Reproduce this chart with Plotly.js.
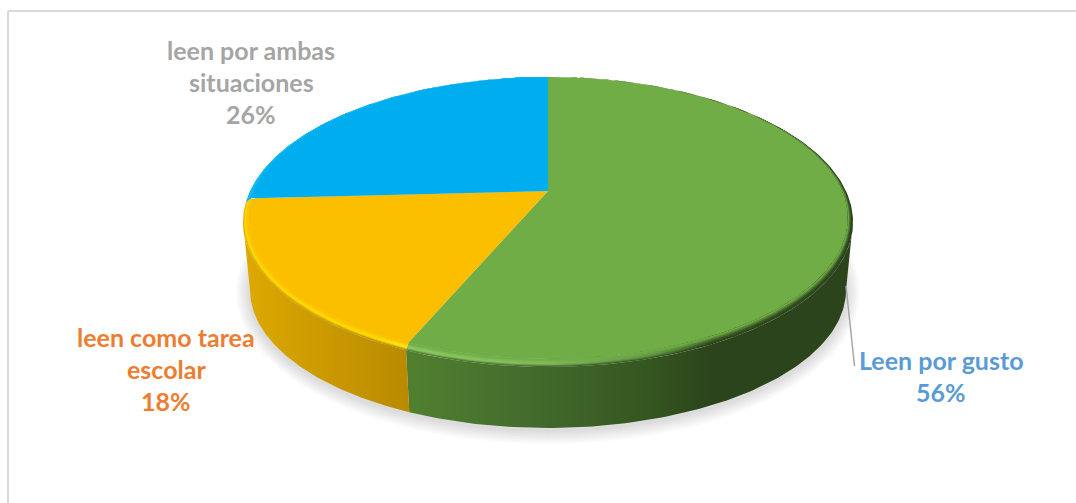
<!DOCTYPE html>
<html>
<head>
<meta charset="utf-8">
<script src="https://cdn.plot.ly/plotly-3.0.1.min.js"></script>
<style>html,body{margin:0;padding:0;background:#fff}#chart{width:1076px;height:503px}</style>
</head>
<body>
<div id="chart"></div>
<script>
// Reading habits: share of students by reason for reading
const categories = ['Leen por gusto', 'leen como tarea\nescolar', 'leen por ambas\nsituaciones'];
const shares = [56, 18, 26];
const faceColors = ['#70AD47', '#FBBF00', '#00AEEF'];
const labelColors = ['#5B9BD5', '#ED7D31', '#A5A5A5'];
const labelCenters = [[941, 360], [166, 337], [251, 50]];
const lineGap = 32;

// Tilted-disc geometry, in pixels of the plotting area
const apex = {x: 548, y: 191};
const spread = 2.31;                       // horizontal stretch of the slice rays
const disc = {cx: 548, cy: 219, rx: 302, ry: 142};   // reference ellipse for the slice rays
const flat = {cx: 548, cy: 218, rx: 300, ry: 141};   // where the bevel starts
const rim  = {cx: 548, cy: 222, rx: 305, ry: 145};   // where the bevel meets the wall
const base = {cx: 548, cy: 290, rx: 298, ry: 138};   // lower edge of the wall

// Unit-circle position on the tilted disc for an angle clockwise from 12 o'clock
function unitAt(theta) {
  const dx = Math.sin(theta) * spread, dy = -Math.cos(theta);
  const ox = (apex.x - disc.cx) / disc.rx, oy = (apex.y - disc.cy) / disc.ry;
  const a = dx / disc.rx, b = dy / disc.ry;
  const A = a * a + b * b, B = 2 * (ox * a + oy * b), C = ox * ox + oy * oy - 1;
  const t = (-B + Math.sqrt(B * B - 4 * A * C)) / (2 * A);
  return [ox + a * t, oy + b * t];
}
const place = (ring, u) => [ring.cx + ring.rx * u[0], ring.cy + ring.ry * u[1]];
const between = (p, q, t) => ({cx: p.cx + (q.cx - p.cx) * t, cy: p.cy + (q.cy - p.cy) * t,
  rx: p.rx + (q.rx - p.rx) * t, ry: p.ry + (q.ry - p.ry) * t});

function arc(ring, from, to, steps) {
  const pts = [];
  for (let i = 0; i <= steps; i++) pts.push(place(ring, unitAt(from + (to - from) * i / steps)));
  return pts;
}
const outline = pts => ({x: pts.map(p => p[0]), y: pts.map(p => p[1])});

// Blend two #rrggbb colours
function mix(c1, c2, t) {
  const ch = (c, i) => parseInt(c.substr(1 + 2 * i, 2), 16);
  return 'rgb(' + [0, 1, 2].map(i => Math.round(ch(c1, i) + (ch(c2, i) - ch(c1, i)) * t)).join(',') + ')';
}

// Slice limits from the shares
const total = shares.reduce((s, v) => s + v, 0);
const bounds = [0];
shares.forEach(v => bounds.push(bounds[bounds.length - 1] + v / total * 2 * Math.PI));

function extremeAngle(sign) {
  let best = 0, bestX = -Infinity;
  for (let i = 0; i < 3600; i++) {
    const th = i / 3600 * 2 * Math.PI;
    const v = sign * unitAt(th)[0];
    if (v > bestX) { bestX = v; best = th; }
  }
  return best;
}
const leftMost = extremeAngle(-1), rightMost = extremeAngle(1);

// Shading stops along x for each slice: wall colour and bevel highlight colour
const shading = [
  {start: 408, stop: 853, at: [0, 0.3, 0.55, 0.68, 1],
   wall: ['#50802F', '#42692C', '#34551F', '#2C441C', '#2C441C'],
   glow: ['#92CE6A', '#84C05C', '#5F9440', '#34541F', '#2C441C']},
  {start: 243, stop: 408, at: [0, 0.8, 1],
   wall: ['#DDA900', '#C09000', '#B98A00'],
   glow: ['#FFDC00', '#FFE000', '#FFEE20']},
  {start: 243, stop: 548, at: [0, 1],
   wall: ['#00AEEF', '#00AEEF'],
   glow: ['#20BEFA', '#00AEEF']}
];
const scale = (s, pick) => s.at.map((p, i) => [p, pick(i)]);
const gradientOf = (s, pick) => ({type: 'horizontal', start: s.start, stop: s.stop, colorscale: scale(s, pick)});

const traces = [];
function filled(pts, fill) {
  traces.push(Object.assign({type: 'scatter', mode: 'lines', line: {width: 0},
    fill: 'toself', hoverinfo: 'skip', showlegend: false}, outline(pts), fill));
}

// Soft shadow under the disc
for (let i = 1; i <= 7; i++) {
  const ring = {cx: base.cx, cy: base.cy + 2, rx: base.rx + 2 * i, ry: base.ry + 2 * i};
  filled(arc(ring, 0, 2 * Math.PI, 180), {fillcolor: 'rgba(0,0,0,0.018)'});
}

// Visible side wall below the widest points of the disc
[[rightMost, bounds[1], 0], [bounds[1], leftMost, 1]].forEach(([a, b, k]) => {
  filled(arc(rim, a, b, 120).concat(arc(base, a, b, 120).reverse()),
    {fillgradient: gradientOf(shading[k], i => shading[k].wall[i])});
});

// Flat top of each slice
shares.forEach((v, i) => {
  const pts = arc(flat, bounds[i], bounds[i + 1], 200);
  pts.unshift([apex.x, apex.y]);
  pts.push([apex.x, apex.y]);
  filled(pts, {fillcolor: faceColors[i]});
});

// Rounded bevel: nested bands going from the wall shade through the highlight to the face colour
const bandCount = 8;
[[0, bounds[1], 0], [bounds[1], bounds[2], 1], [bounds[2], bounds[3], 2]].forEach(([a, b, k]) => {
  const s = shading[k];
  for (let n = 0; n < bandCount; n++) {
    const t = n / (bandCount - 1);
    const outer = between(rim, flat, n / bandCount);
    const pick = i => t < 0.35
      ? mix(s.wall[i], s.glow[i], t / 0.35)
      : mix(s.glow[i], faceColors[k], (t - 0.35) / 0.65);
    filled(arc(outer, a, b, 200).concat(arc(flat, a, b, 200).reverse()),
      {fillgradient: gradientOf(s, pick)});
  }
});

// Leader line of the first label
traces.push({type: 'scatter', mode: 'lines', x: [846, 854.5], y: [286, 366],
  line: {color: '#A6A6A6', width: 1.5}, hoverinfo: 'skip', showlegend: false});

// Data labels, one annotation per line
const annotations = [];
categories.forEach((name, i) => {
  const lines = name.split('\n').concat([shares[i] + '%']);
  lines.forEach((text, j) => annotations.push({
    xref: 'x', yref: 'y', x: labelCenters[i][0], y: labelCenters[i][1] + j * lineGap,
    text, showarrow: false, xanchor: 'center', yanchor: 'middle',
    font: {family: 'Lato, Carlito, sans-serif', size: 25, color: labelColors[i], weight: 700}
  }));
});

const frame = [[8, 503, 8, 11], [8, 11, 1076, 11]].map(([x0, y0, x1, y1]) => ({
  type: 'line', xref: 'x', yref: 'y', x0, y0, x1, y1, line: {color: '#D9D9D9', width: 2}
}));

const layout = {
  width: 1076, height: 503,
  margin: {l: 0, r: 0, t: 0, b: 0},
  paper_bgcolor: '#fff', plot_bgcolor: '#fff',
  xaxis: {range: [0, 1076], visible: false, fixedrange: true},
  yaxis: {range: [503, 0], visible: false, fixedrange: true},
  shapes: frame, annotations, showlegend: false
};
Plotly.newPlot('chart', traces, layout, {displayModeBar: false, staticPlot: true});
</script>
</body>
</html>
